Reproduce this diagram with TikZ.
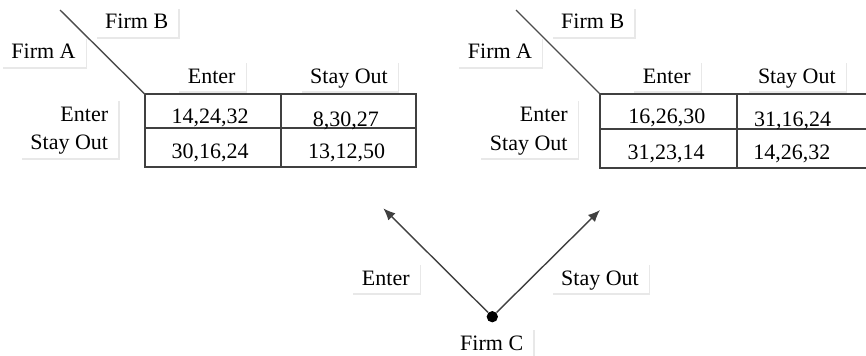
\documentclass[tikz,border=0pt]{standalone}
\usepackage{fontspec}
\setmainfont{Liberation Serif}
\usetikzlibrary{arrows.meta,shadows}

\begin{document}
\begin{tikzpicture}[x=0.5pt, y=-0.5pt, font=\fontsize{11}{13}\selectfont,
                    lbl/.style={fill=white, inner xsep=5pt, inner ysep=3pt,
                                text height=8pt, text depth=1pt,
                                drop shadow={shadow xshift=0.7pt,
                                             shadow yshift=-1pt,
                                             fill=black!9, opacity=1}},
                    cell/.style={inner sep=0pt, text height=8pt, text depth=1pt},
                    grid/.style={draw=black!75, line width=0.9pt},
                    move/.style={draw=black!75, line width=0.7pt,
                                 -{Latex[length=6pt, width=5pt]}}]
  \useasboundingbox (0,0) rectangle (866,355);
  \clip (0,0) rectangle (866,355);

  % left matrix: labels
  \node[lbl] (LB) at (136.7,21.7) {Firm B};
  \node[lbl] (LA) at (43.5,51.7) {Firm A};
  \node[lbl] (LEc) at (211.7,76) {Enter};
  \node[lbl] (LSc) at (349,76) {Stay Out};
  \node[lbl, anchor=east] (LEr) at (118.5,114) {Enter};
  \node[lbl, anchor=east] (LSr) at (118.5,142.7) {Stay Out};

  % right matrix: labels
  \node[lbl] (RB) at (592.7,21.7) {Firm B};
  \node[lbl] (RA) at (500,51.7) {Firm A};
  \node[lbl] (REc) at (666.8,76) {Enter};
  \node[lbl] (RSc) at (796.8,76) {Stay Out};
  \node[lbl, anchor=east] (REr) at (578,114) {Enter};
  \node[lbl, anchor=east] (RSr) at (578,143) {Stay Out};

  % grids
  \coordinate (L0) at (145,94.3);
  \coordinate (R0) at (600.3,94.3);
  \draw[grid] (L0) rectangle (415.7,166.7);
  \draw[grid] (281,94.3) -- (281,166.7);
  \draw[grid] (145,128.3) -- (415.7,128.3);
  \draw[grid] (R0) rectangle (880,168.3);
  \draw[grid] (737,94.3) -- (737,168.3);
  \draw[grid] (600.3,129.3) -- (880,129.3);

  \coordinate (Ld) at (60,10);
  \coordinate (Rd) at (516,10);
  \draw[black!70, line width=0.7pt] (Ld) -- (L0);
  \draw[black!70, line width=0.7pt] (Rd) -- (R0);

  % payoffs
  \foreach \n/\x/\y/\t in {L11/210/116.7/{14,24,32}, L12/345.8/119/{8,30,27},
                          L21/210/151.7/{30,16,24}, L22/346.7/151.7/{13,12,50},
                          R11/666.8/116.7/{16,26,30}, R12/792.7/119/{31,16,24},
                          R21/666/152/{31,23,14}, R22/791.8/152/{14,26,32}} {
          \node[cell] (\n) at (\x,\y) {\t};
      }

  % firm C chooses
  \node[circle, fill=black, inner sep=2pt] (C) at (492.3,316.7) {};
  \coordinate (CE) at (383.3,208.3);
  \coordinate (CS) at (600,210);
  \draw[move] (C) -- (CE);
  \draw[move] (C) -- (CS);
  \node[lbl] (E) at (385.8,278.3) {Enter};
  \node[lbl] (S) at (600,278.3) {Stay Out};
  \node[lbl] (FC) at (491.7,343.3) {Firm C};
\end{tikzpicture}
\end{document}
